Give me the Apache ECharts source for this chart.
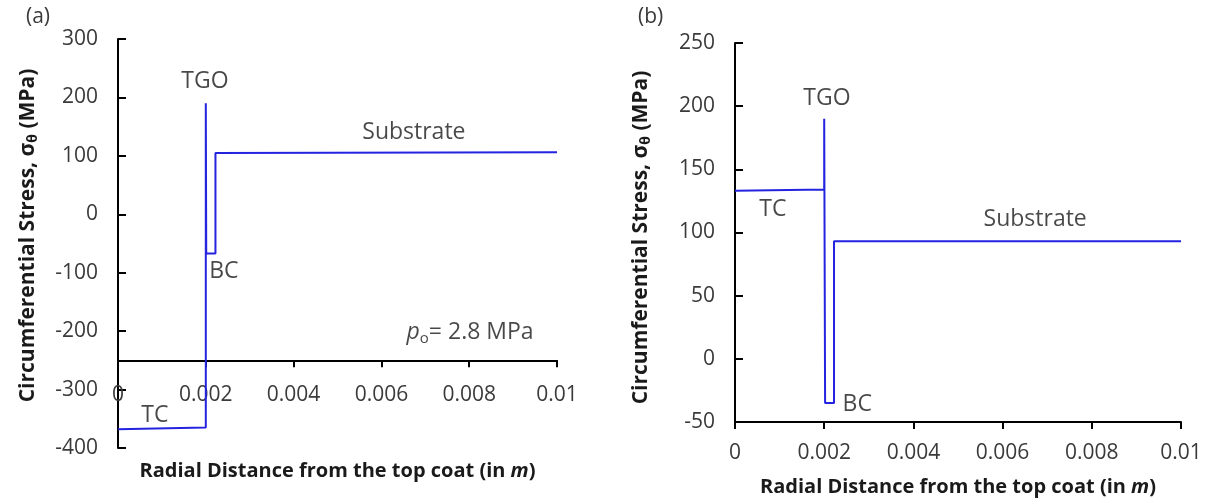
<!DOCTYPE html>
<html>
<head>
<meta charset="utf-8">
<script src="https://cdn.jsdelivr.net/npm/echarts@6/dist/echarts.min.js"></script>
<style>
html,body{margin:0;padding:0;background:#fff;}
#chart{width:1210px;height:502px;}
</style>
</head>
<body>
<div id="chart"></div>
<script>
// ---- data ----
const xTickLabels = ['0', '0.002', '0.004', '0.006', '0.008', '0.01'];
const yTickA = [-400, -300, -200, -100, 0, 100, 200, 300];
const yTickB = [-50, 0, 50, 100, 150, 200, 250];

// panel (a): p_o = 2.8 MPa
const aX = [0, 0.002, 0.002, 0.00201, 0.00201, 0.00222, 0.00222, 0.01];
const aY = [-368, -365, 190, 190, -67, -67, 105, 106];
// panel (b)
const bX = [0, 0.002, 0.002, 0.00202, 0.00202, 0.00222, 0.00222, 0.01];
const bY = [133, 134, 190, 190, -35, -35, 93, 93];

// annotations [x, y, text]
const annA = [
  [0.00198, 227, 'TGO'],
  [0.00241, -97, 'BC'],
  [0.00674, 140, 'Substrate'],
  [0.00084, -345, 'TC'],
  [0.00802, -203, '{i|p}{s|o}{n|= 2.8 MPa}']
];
const annB = [
  [0.00206, 206, 'TGO'],
  [0.00085, 118, 'TC'],
  [0.00274, -36, 'BC'],
  [0.00673, 110, 'Substrate']
];
const axisCrossA = -250; // x-axis of panel (a) crosses the y-axis here
const yRangeA = [-400, 300];
const yRangeB = [-50, 250];

const FONT = 'Open Sans';
const BLUE = '#2323e0';
const TXT = '#3a3a3a';
const DARK = '#1a1a1a';

function pairs(xs, ys) { return xs.map((x, i) => [x, ys[i]]); }
function annData(arr) { return arr.map(a => ({ value: [a[0], a[1]], name: a[2] })); }

const xName = '{t|Radial Distance from the top coat (in }{i|m}{t|)}';
const yName = '{t|Circumferential Stress, σ}{s|θ}{t| (MPa)}';
function nameRich(fs) {
  return {
    t: { fontFamily: FONT, fontWeight: 'bold', fontSize: fs, color: DARK, lineHeight: 24 },
    i: { fontFamily: FONT, fontWeight: 'bold', fontStyle: 'italic', fontSize: fs, color: DARK, lineHeight: 24 },
    s: { fontFamily: FONT, fontWeight: 'bold', fontSize: Math.round(fs * 0.65), color: DARK, verticalAlign: 'bottom', lineHeight: 24, padding: [9, 0, 0, 0] }
  };
}
const xLabelFmt = (v) => { const i = Math.round(v / 0.002); return xTickLabels[i] ?? ''; };
const LINE = { color: '#000', width: 2 };

function xAxisVisible(grid, gap, margin) {
  return {
    type: 'value', gridIndex: grid, min: 0, max: 0.01, interval: 0.002,
    splitLine: { show: false },
    axisLine: { show: true, onZero: false, lineStyle: LINE },
    axisTick: { show: true, inside: false, length: 7, lineStyle: LINE },
    axisLabel: { fontFamily: FONT, fontSize: 21, color: TXT, margin: margin, formatter: xLabelFmt },
    name: xName, nameLocation: 'middle', nameGap: gap,
    nameTextStyle: { rich: nameRich(20) }
  };
}
function yAxisVisible(grid, range, interval, ticks, gap, pad) {
  return {
    type: 'value', gridIndex: grid, min: range[0], max: range[1], interval: interval,
    splitLine: { show: false },
    axisLine: { show: true, onZero: false, lineStyle: LINE },
    axisTick: { show: true, inside: true, length: 8, lineStyle: LINE },
    axisLabel: { fontFamily: FONT, fontSize: 21, color: TXT, margin: 20,
      formatter: (v) => { const t = ticks.find(k => Math.abs(k - v) < 1e-9); return t === undefined ? '' : String(t); } },
    name: yName, nameLocation: 'middle', nameRotate: 90, nameGap: gap,
    nameTextStyle: { rich: nameRich(21), padding: pad }
  };
}

const annLabel = {
  show: true, position: 'inside', formatter: '{b}',
  fontFamily: FONT, fontSize: 23, color: DARK,
  rich: {
    i: { fontFamily: FONT, fontSize: 23, fontStyle: 'italic', color: DARK },
    s: { fontFamily: FONT, fontSize: 15, color: DARK, verticalAlign: 'bottom', padding: [11, 0, 0, 0] },
    n: { fontFamily: FONT, fontSize: 23, color: DARK }
  }
};

// layout of panel (a)
const gA = { left: 118, top: 39, width: 439, height: 409 };
const gAxisHeight = gA.height * (yRangeA[1] - axisCrossA) / (yRangeA[1] - yRangeA[0]);

const option = {
  backgroundColor: '#fff',
  animation: false,
  title: [
    { text: '(a)', left: 21, top: 2, textStyle: { fontFamily: FONT, fontSize: 21, fontWeight: 'normal', color: TXT } },
    { text: '(b)', left: 633, top: 2, textStyle: { fontFamily: FONT, fontSize: 21, fontWeight: 'normal', color: TXT } }
  ],
  grid: [
    Object.assign({ outerBoundsMode: 'none', containLabel: false }, gA),
    { outerBoundsMode: 'none', containLabel: false, left: gA.left, top: gA.top, width: gA.width, height: gAxisHeight },
    { outerBoundsMode: 'none', containLabel: false, left: 735, top: 43, width: 446, height: 379 }
  ],
  xAxis: [
    { type: 'value', gridIndex: 0, min: 0, max: 0.01, show: false },
    xAxisVisible(1, 99, 24),
    xAxisVisible(2, 53, 21)
  ],
  yAxis: [
    yAxisVisible(0, yRangeA, 100, yTickA, 78, [0, 0, 0, 16]),
    { type: 'value', gridIndex: 1, show: false, min: axisCrossA, max: yRangeA[1] },
    yAxisVisible(2, yRangeB, 50, yTickB, 82, [0, 10, 0, 0])
  ],
  series: [
    { type: 'line', xAxisIndex: 0, yAxisIndex: 0, data: pairs(aX, aY), showSymbol: false, symbol: 'none',
      lineStyle: { color: BLUE, width: 2 }, itemStyle: { color: BLUE } },
    { type: 'line', xAxisIndex: 2, yAxisIndex: 2, data: pairs(bX, bY), showSymbol: false, symbol: 'none',
      lineStyle: { color: BLUE, width: 2 }, itemStyle: { color: BLUE } },
    { type: 'scatter', xAxisIndex: 0, yAxisIndex: 0, symbolSize: 0, data: annData(annA), label: annLabel, silent: true },
    { type: 'scatter', xAxisIndex: 2, yAxisIndex: 2, symbolSize: 0, data: annData(annB), label: annLabel, silent: true }
  ]
};

const chart = echarts.init(document.getElementById('chart'), null, { renderer: 'canvas' });
chart.setOption(option);
</script>
</body>
</html>
